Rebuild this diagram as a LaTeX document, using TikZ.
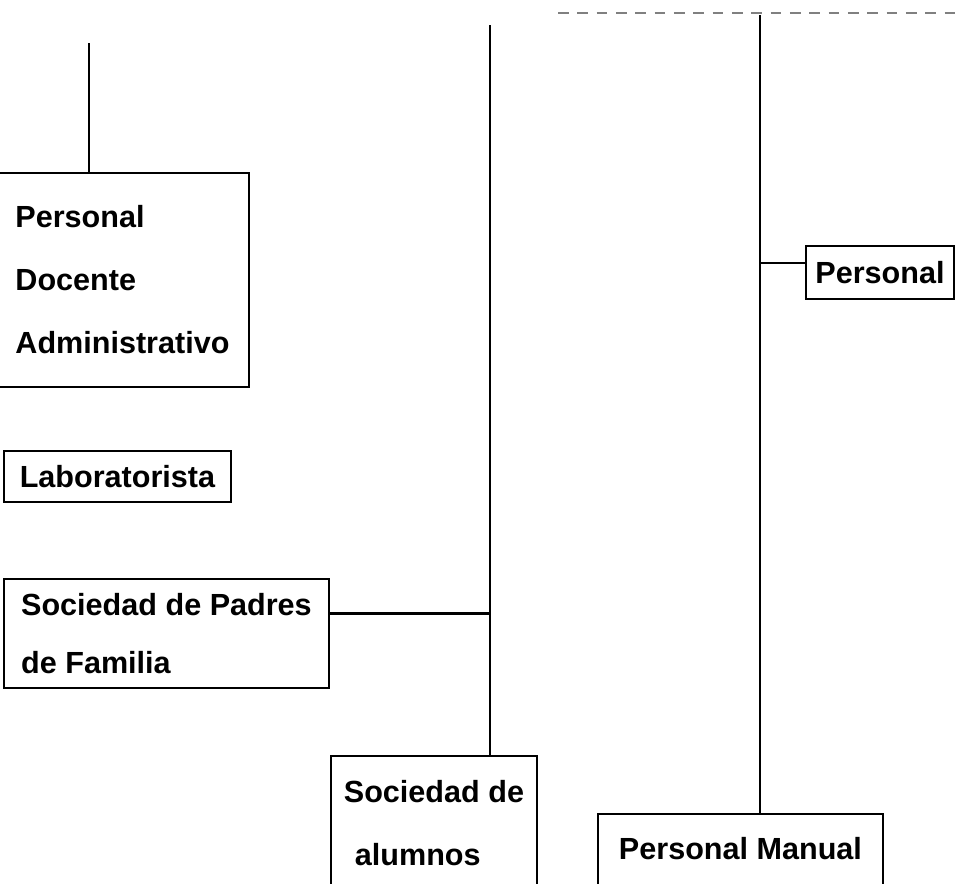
\documentclass[tikz,border=0pt]{standalone}
\usepackage{fontspec}
\setmainfont{Liberation Sans}
\usepackage{tikz}

\begin{document}
\begin{tikzpicture}[x=.2mm,y=-.2mm,
	caja/.style={draw,line width=1.1pt,rectangle,anchor=north west,inner sep=0pt,align=left,
		font=\bfseries\fontsize{17.4}{35.8}\selectfont},
	linea/.style={line width=1.6pt},
	rama/.style={line width=1.2pt}]
	\useasboundingbox (0,0) rectangle (957,883);

	% trazo del encabezado
	\draw[gray,line width=.6pt,dash pattern=on 6pt off 5pt] (558,13) -- (957,13);

	% columna izquierda
	\node[caja,minimum width=50.6mm,minimum height=42.8mm] (pda) at (-5,172)
		{Personal\\Docente\\Administrativo};
	\node[caja,minimum width=45.4mm,minimum height=10.2mm] (lab) at (3,450) {Laboratorista};
	\node[caja,minimum width=65mm,minimum height=21.8mm,
		font=\bfseries\fontsize{17.4}{33}\selectfont] (padres) at (3,578)
		{Sociedad de Padres\\de Familia};

	% abajo
	\node[caja,minimum width=41.2mm,minimum height=27mm] (soc) at (330,755)
		{Sociedad de\\\hspace{2.2mm}alumnos};
	\node[caja,minimum width=57mm,inner ysep=4.6mm,text depth=20mm] (pm) at (597,813)
		{Personal Manual};

	% derecha
	\node[caja,minimum width=29.6mm,minimum height=10.6mm] (prs) at (805,245) {Personal};

	% lineas verticales
	\coordinate (t1) at (89,43);
	\coordinate (t2) at (490,25);
	\coordinate (t3) at (760,15);
	\draw[linea] (t1) -- (t1 |- pda.north);
	\draw[linea] (t2) -- (t2 |- soc.north);
	\draw[linea] (t3) -- (t3 |- pm.north);

	% ramas
	\draw[rama] ([yshift=4mm]padres.east) -- ([yshift=4mm]padres.east -| t2);
	\draw[rama] ([yshift=1.9mm]prs.west) -- ([yshift=1.9mm]prs.west -| t3);
\end{tikzpicture}
\end{document}
